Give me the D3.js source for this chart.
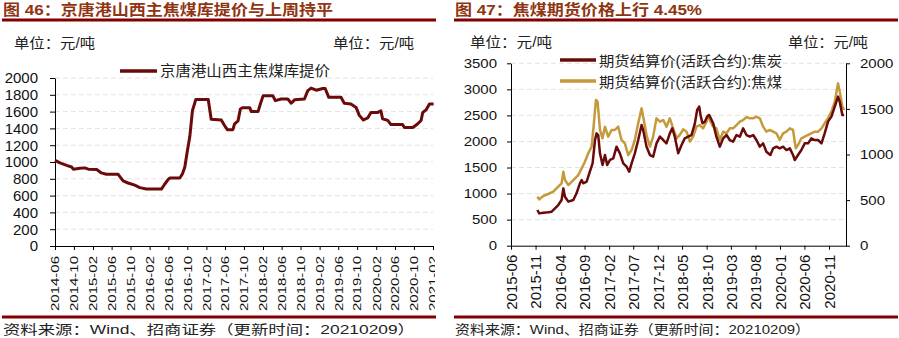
<!DOCTYPE html>
<html><head><meta charset="utf-8">
<script src="https://cdn.jsdelivr.net/npm/d3@7"></script>
<style>
html,body{margin:0;padding:0;background:#fff;}
svg text{font-family:"Liberation Sans",Arial,"Noto Sans CJK SC",sans-serif;}
</style></head><body>
<svg id="c" width="899" height="338"></svg>
<script>
// ---------- DATA ----------
const leftTitle = "图 46：京唐港山西主焦煤库提价与上周持平";
const rightTitle = "图 47：焦煤期货价格上行 4.45%";
const unitLabel = "单位：元/吨";
const sourceLabel = "资料来源：Wind、招商证券（更新时间：20210209）";
const leftSeriesName = "京唐港山西主焦煤库提价";
const cokeName = "期货结算价(活跃合约):焦炭";
const coalName = "期货结算价(活跃合约):焦煤";

const leftYTicks = [0,200,400,600,800,1000,1200,1400,1600,1800,2000];
const leftXTicks = ["2014-06","2014-10","2015-02","2015-06","2015-10","2016-02","2016-06","2016-10","2017-02","2017-06","2017-10","2018-02","2018-06","2018-10","2019-02","2019-06","2019-10","2020-02","2020-06","2020-10","2021-02"];

const leftDates = ["2014-06-01","2014-07-03","2014-08-15","2014-09-16","2014-09-27","2014-11-09","2014-12-10","2015-01-02","2015-02-25","2015-03-27","2015-04-28","2015-07-12","2015-08-14","2015-09-15","2015-10-28","2015-11-30","2016-01-12","2016-04-17","2016-05-08","2016-05-30","2016-06-10","2016-08-14","2016-08-31","2016-09-15","2016-10-02","2016-10-17","2016-11-03","2016-11-25","2017-02-13","2017-03-04","2017-05-08","2017-05-29","2017-06-16","2017-07-22","2017-08-02","2017-08-24","2017-09-08","2017-09-21","2017-11-08","2017-11-18","2017-12-31","2018-01-15","2018-02-02","2018-04-05","2018-04-22","2018-05-29","2018-07-11","2018-08-02","2018-08-23","2018-10-26","2018-11-17","2018-12-08","2019-01-10","2019-02-22","2019-03-09","2019-04-01","2019-06-19","2019-07-10","2019-08-22","2019-09-24","2019-10-15","2019-11-10","2019-12-08","2019-12-29","2020-02-11","2020-03-02","2020-03-13","2020-04-15","2020-05-06","2020-07-20","2020-08-01","2020-09-24","2020-10-26","2020-11-16","2020-11-27","2020-12-18","2021-01-09","2021-02-05"];
const leftValues = [1020,990,960,940,915,925,930,915,910,870,855,855,775,750,725,695,678,678,735,790,810,810,860,940,1140,1300,1610,1745,1745,1510,1500,1435,1385,1385,1455,1490,1630,1645,1645,1600,1600,1690,1790,1790,1730,1750,1750,1700,1740,1750,1850,1880,1855,1875,1875,1770,1770,1700,1690,1650,1555,1500,1525,1590,1590,1610,1515,1495,1445,1445,1410,1410,1455,1495,1590,1620,1690,1690];

const rightLeftTicks = [0,500,1000,1500,2000,2500,3000,3500];
const rightRightTicks = [0,500,1000,1500,2000];
const rightXTicks = ["2015-06","2015-11","2016-04","2016-09","2017-02","2017-07","2017-12","2018-05","2018-10","2019-03","2019-08","2020-01","2020-06","2020-11"];

const cokeDates = ["2015-11-12","2015-11-24","2015-12-19","2016-01-19","2016-02-09","2016-03-01","2016-03-21","2016-04-11","2016-04-22","2016-05-02","2016-05-23","2016-06-23","2016-07-13","2016-08-03","2016-08-14","2016-08-24","2016-09-14","2016-10-04","2016-10-21","2016-11-05","2016-11-15","2016-11-25","2016-12-06","2016-12-22","2017-01-06","2017-01-20","2017-02-06","2017-02-27","2017-03-19","2017-04-09","2017-04-30","2017-05-21","2017-06-06","2017-06-21","2017-07-11","2017-08-01","2017-08-22","2017-09-01","2017-09-22","2017-10-13","2017-11-02","2017-11-23","2017-12-14","2018-01-04","2018-01-24","2018-02-14","2018-03-01","2018-03-17","2018-04-07","2018-04-28","2018-05-18","2018-06-08","2018-06-29","2018-07-20","2018-08-03","2018-08-16","2018-08-24","2018-09-05","2018-09-20","2018-10-04","2018-10-17","2018-11-11","2018-12-01","2018-12-22","2019-01-12","2019-02-02","2019-02-22","2019-03-15","2019-04-05","2019-04-26","2019-05-16","2019-06-06","2019-06-27","2019-07-18","2019-08-07","2019-08-28","2019-09-18","2019-10-08","2019-11-02","2019-11-19","2019-12-10","2019-12-30","2020-01-20","2020-02-10","2020-03-02","2020-03-22","2020-04-02","2020-04-22","2020-05-13","2020-06-03","2020-06-24","2020-07-14","2020-08-04","2020-08-25","2020-09-15","2020-10-05","2020-10-26","2020-11-16","2020-12-07","2020-12-27","2021-01-07","2021-01-23","2021-02-03"];
const cokeValues = [685,620,633,640,653,717,780,877,1100,940,845,877,1005,1197,1260,1197,1229,1420,1580,2028,2156,2124,1772,1548,1740,1548,1645,1676,1900,1772,1580,1517,1420,1580,1772,2028,2316,2220,1900,1740,1708,1964,2092,2028,1964,2156,2252,2092,1772,1932,2060,2092,2124,2348,2604,2668,2508,2348,2380,2476,2508,2348,2092,1900,2060,2124,2028,1996,2124,2092,2252,2124,2092,2124,2028,1900,1964,1804,1740,1868,1900,1868,1900,1836,1868,1740,1645,1740,1836,1964,1964,2060,2028,2028,1964,2156,2380,2476,2668,2860,2764,2508,2508];

const coalDates = ["2015-11-12","2015-11-24","2015-12-19","2016-01-19","2016-02-19","2016-03-21","2016-04-11","2016-04-22","2016-05-02","2016-05-23","2016-06-23","2016-07-24","2016-08-14","2016-09-03","2016-09-24","2016-10-15","2016-10-29","2016-11-11","2016-11-21","2016-12-06","2016-12-22","2017-01-06","2017-01-26","2017-02-16","2017-03-09","2017-03-30","2017-04-19","2017-05-10","2017-05-31","2017-06-21","2017-07-11","2017-08-01","2017-08-22","2017-09-05","2017-09-22","2017-10-13","2017-11-02","2017-11-23","2017-12-14","2018-01-04","2018-01-24","2018-02-14","2018-03-07","2018-03-28","2018-04-17","2018-05-08","2018-05-29","2018-06-19","2018-07-09","2018-07-30","2018-08-20","2018-09-09","2018-09-30","2018-10-11","2018-10-25","2018-11-11","2018-12-01","2018-12-22","2019-01-12","2019-02-02","2019-02-22","2019-03-15","2019-04-05","2019-04-26","2019-05-16","2019-06-06","2019-06-27","2019-07-18","2019-08-07","2019-08-28","2019-09-18","2019-10-08","2019-10-29","2019-11-19","2019-12-10","2019-12-30","2020-01-20","2020-02-10","2020-03-02","2020-03-22","2020-04-08","2020-04-22","2020-05-13","2020-06-03","2020-06-24","2020-07-14","2020-08-04","2020-08-25","2020-09-15","2020-10-05","2020-10-26","2020-11-16","2020-12-07","2020-12-27","2021-01-07","2021-01-23","2021-02-03"];
const coalValues = [537,508,545,567,592,647,684,812,720,665,720,775,848,921,1013,1086,1342,1598,1579,1269,1177,1305,1196,1269,1269,1305,1159,1122,994,1049,1159,1342,1506,1378,1214,1086,1196,1397,1360,1378,1305,1397,1287,1177,1214,1276,1250,1141,1196,1305,1323,1287,1360,1433,1360,1305,1287,1159,1250,1232,1287,1287,1323,1360,1378,1408,1397,1397,1415,1397,1305,1250,1269,1250,1232,1159,1232,1250,1287,1269,1068,1104,1177,1196,1214,1232,1250,1250,1287,1342,1397,1470,1579,1780,1689,1524,1488];

// ---------- DRAW ----------
const parse = d3.timeParse("%Y-%m-%d");
const parseM = d3.timeParse("%Y-%m");
const svg = d3.select("#c");
const titleColor = "#8f3512", ruleColor = "#820000";
const cokeColor = "#6b0a0a", coalColor = "#c49a3c";
const gridColor = "#e3e3e3";
const numFmt = d3.format("d");

function fit(sel, w){ sel.attr("textLength", w).attr("lengthAdjust","spacingAndGlyphs"); return sel; }

// ===== LEFT PANEL =====
const L = svg.append("g");
L.append("defs").append("clipPath").attr("id","clipL").append("rect").attr("x",0).attr("y",0).attr("width",435).attr("height",338);
const Lg = L.append("g");
const LgClip = L.append("g").attr("clip-path","url(#clipL)");

fit(Lg.append("text").attr("x",3).attr("y",14.5).attr("font-size",15).attr("font-weight","bold").attr("fill",titleColor).text(leftTitle),330);
Lg.append("rect").attr("x",2).attr("y",18.5).attr("width",434).attr("height",3).attr("fill",ruleColor);
fit(Lg.append("text").attr("x",14).attr("y",47.5).attr("font-size",14).attr("fill","#222").text(unitLabel),81);
fit(Lg.append("text").attr("x",333).attr("y",47.5).attr("font-size",14).attr("fill","#222").text(unitLabel),81);

const xL = d3.scaleTime().domain([parse("2014-06-01"), parse("2021-02-01")]).range([55,433]);
const yL = d3.scaleLinear().domain([0,2000]).range([246,78]);

Lg.append("g").selectAll("line").data(leftYTicks.filter(d=>d>0)).join("line")
  .attr("x1",55).attr("x2",433).attr("y1",d=>yL(d)).attr("y2",d=>yL(d))
  .attr("stroke",gridColor).attr("stroke-dasharray","5,3");

const axYL = Lg.append("g").attr("transform","translate(55,0)")
  .call(d3.axisLeft(yL).tickValues(leftYTicks).tickFormat(numFmt).tickSize(5).tickSizeOuter(0).tickPadding(12));
axYL.selectAll("text").attr("font-size",15).attr("fill","#111").attr("font-family",null);
axYL.selectAll("path,line").attr("stroke","#000");

const axXL = LgClip.append("g").attr("transform","translate(0,246)")
  .call(d3.axisBottom(xL).tickValues(leftXTicks.map(parseM)).tickSize(4).tickSizeOuter(0).tickFormat(d3.timeFormat("%Y-%m")));
axXL.selectAll("path,line").attr("stroke","#000");
axXL.selectAll("text").attr("font-family",null).attr("font-size",10.5).attr("fill","#111")
  .attr("transform","rotate(-90)").attr("x",-10).attr("y",0).attr("dy","0.36em").style("text-anchor","end")
  .attr("textLength",55).attr("lengthAdjust","spacingAndGlyphs");

const leftData = leftDates.map((d,i)=>({d:parse(d), v:leftValues[i]}));
Lg.append("path").datum(leftData).attr("fill","none").attr("stroke",cokeColor).attr("stroke-width",3)
  .attr("stroke-linejoin","round")
  .attr("d", d3.line().x(d=>xL(d.d)).y(d=>yL(d.v)));

Lg.append("line").attr("x1",120).attr("x2",157).attr("y1",71).attr("y2",71).attr("stroke",cokeColor).attr("stroke-width",3.5);
fit(Lg.append("text").attr("x",160).attr("y",76).attr("font-size",14.5).attr("fill","#222").text(leftSeriesName),170);

Lg.append("rect").attr("x",2).attr("y",315.5).attr("width",434).attr("height",3).attr("fill",ruleColor);
fit(Lg.append("text").attr("x",3).attr("y",334).attr("font-size",13).attr("fill","#222").text(sourceLabel),412);

// ===== RIGHT PANEL =====
const R = svg.append("g");
fit(R.append("text").attr("x",455).attr("y",14.5).attr("font-size",15).attr("font-weight","bold").attr("fill",titleColor).text(rightTitle),247);
R.append("rect").attr("x",454).attr("y",18.5).attr("width",444).attr("height",3).attr("fill",ruleColor);
fit(R.append("text").attr("x",470).attr("y",46.5).attr("font-size",14).attr("fill","#222").text(unitLabel),82);
fit(R.append("text").attr("x",788).attr("y",46.5).attr("font-size",14).attr("fill","#222").text(unitLabel),80);

const xR0 = d3.scaleTime().domain([parse("2015-06-01"), parse("2020-11-01")]).range([511,829]);
const xR = d3.scaleTime().domain([parse("2015-06-01"), xR0.invert(846)]).range([511,846]);
const yRL = d3.scaleLinear().domain([0,3500]).range([245.7,63.3]);
const yRR = d3.scaleLinear().domain([0,2000]).range([245.7,63.3]);

R.append("g").selectAll("line").data(rightLeftTicks.filter(d=>d>0)).join("line")
  .attr("x1",511).attr("x2",846).attr("y1",d=>yRL(d)).attr("y2",d=>yRL(d))
  .attr("stroke",gridColor).attr("stroke-dasharray","5,3");

const axRL = R.append("g").attr("transform","translate(511,0)")
  .call(d3.axisLeft(yRL).tickValues(rightLeftTicks).tickFormat(numFmt).tickSize(4).tickSizeOuter(0).tickPadding(10));
const axRR = R.append("g").attr("transform","translate(846,0)")
  .call(d3.axisRight(yRR).tickValues(rightRightTicks).tickFormat(numFmt).tickSize(4).tickSizeOuter(0).tickPadding(10));
[axRL,axRR].forEach(a=>{
  a.selectAll("path,line").attr("stroke","#000");
  a.selectAll("text").attr("font-family",null).attr("font-size",13).attr("fill","#111")
    .each(function(){ const n=d3.select(this).text().length; d3.select(this).attr("textLength",n*8.33).attr("lengthAdjust","spacingAndGlyphs"); });
});

const axXR = R.append("g").attr("transform","translate(0,245.7)")
  .call(d3.axisBottom(xR).tickValues(rightXTicks.map(parseM)).tickSize(4).tickSizeOuter(0).tickFormat(d3.timeFormat("%Y-%m")));
axXR.selectAll("path,line").attr("stroke","#000");
axXR.selectAll("text").attr("font-family",null).attr("font-size",15).attr("fill","#111")
  .attr("transform","rotate(-90)").attr("x",-9).attr("y",0).attr("dy","0.36em").style("text-anchor","end");

const cokeData = cokeDates.map((d,i)=>({d:parse(d), v:cokeValues[i]}));
const coalData = coalDates.map((d,i)=>({d:parse(d), v:coalValues[i]}));
R.append("path").datum(coalData).attr("fill","none").attr("stroke",coalColor).attr("stroke-width",2.5)
  .attr("stroke-linejoin","round").attr("d", d3.line().x(d=>xR(d.d)).y(d=>yRR(d.v)));
R.append("path").datum(cokeData).attr("fill","none").attr("stroke",cokeColor).attr("stroke-width",2.5)
  .attr("stroke-linejoin","round").attr("d", d3.line().x(d=>xR(d.d)).y(d=>yRL(d.v)));

R.append("line").attr("x1",560).attr("x2",596).attr("y1",60).attr("y2",60).attr("stroke",cokeColor).attr("stroke-width",3.5);
fit(R.append("text").attr("x",599).attr("y",65.5).attr("font-size",14).attr("fill","#222").text(cokeName),183);
R.append("line").attr("x1",560).attr("x2",596).attr("y1",81).attr("y2",81).attr("stroke",coalColor).attr("stroke-width",3.5);
fit(R.append("text").attr("x",599).attr("y",86.5).attr("font-size",14).attr("fill","#222").text(coalName),183);

R.append("rect").attr("x",454).attr("y",315.5).attr("width",444).attr("height",3).attr("fill",ruleColor);
fit(R.append("text").attr("x",455).attr("y",334).attr("font-size",13).attr("fill","#222").text(sourceLabel),355);
</script>
</body></html>
